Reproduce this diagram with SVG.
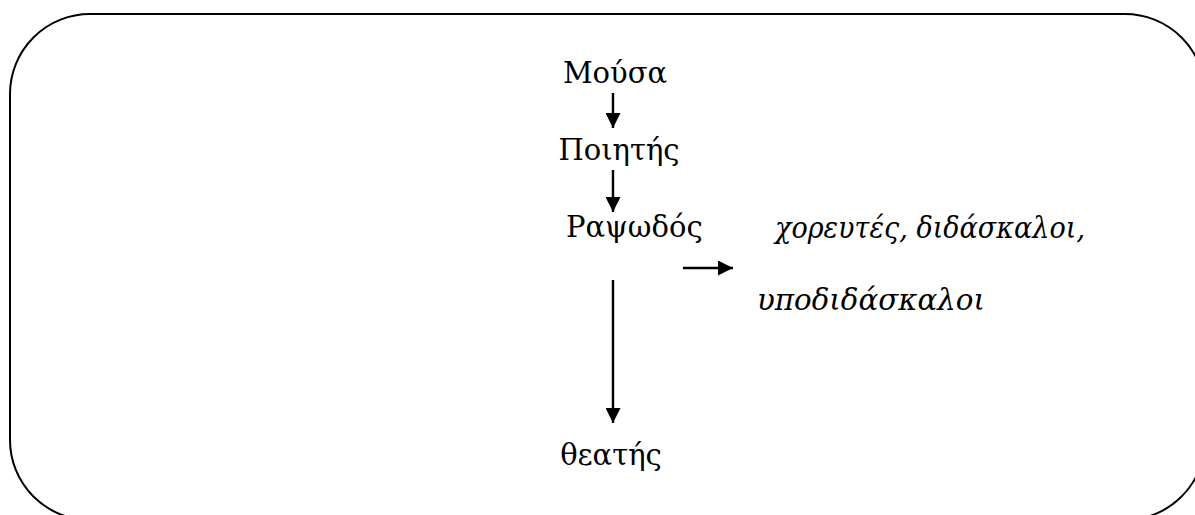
<svg xmlns="http://www.w3.org/2000/svg" width="1195" height="515" viewBox="0 0 1195 515">
<style>
.t{font-family:"DejaVu Serif","Liberation Serif",serif;font-size:29px;fill:#000}
.i{font-style:italic}
.c{stroke:#000;stroke-width:2.4;fill:none}
</style>
<defs>
<marker id="ah" viewBox="0 0 10 10" refX="10" refY="5" markerWidth="15" markerHeight="15" markerUnits="userSpaceOnUse" orient="auto"><path d="M0,0L10,5L0,10z" fill="#000"/></marker>
</defs>
<rect x="10" y="14" width="1195" height="506" rx="80" ry="80" fill="#fff" stroke="#000" stroke-width="2"/>
<g id="connectors">
<line class="c" x1="613" y1="93" x2="613" y2="128" marker-end="url(#ah)"/>
<line class="c" x1="613" y1="170" x2="613" y2="212" marker-end="url(#ah)"/>
<line class="c" x1="683" y1="268" x2="733" y2="268" marker-end="url(#ah)"/>
<line class="c" x1="613" y1="280" x2="613" y2="423" marker-end="url(#ah)"/>
</g>
<g id="mousa"><text class="t" x="615" y="83" text-anchor="middle">Μούσα</text></g>
<g id="poiitis"><text class="t" x="619" y="160" text-anchor="middle">Ποιητής</text></g>
<g id="rapsodos"><text class="t" x="566" y="237">Ραψωδός</text></g>
<g id="choreutes"><text class="t i" x="775" y="238" textLength="310" lengthAdjust="spacingAndGlyphs">χορευτές, διδάσκαλοι,</text><text class="t i" x="757" y="310" textLength="228" lengthAdjust="spacingAndGlyphs">υποδιδάσκαλοι</text></g>
<g id="theatis"><text class="t" x="611" y="465" text-anchor="middle">θεατής</text></g>
</svg>
